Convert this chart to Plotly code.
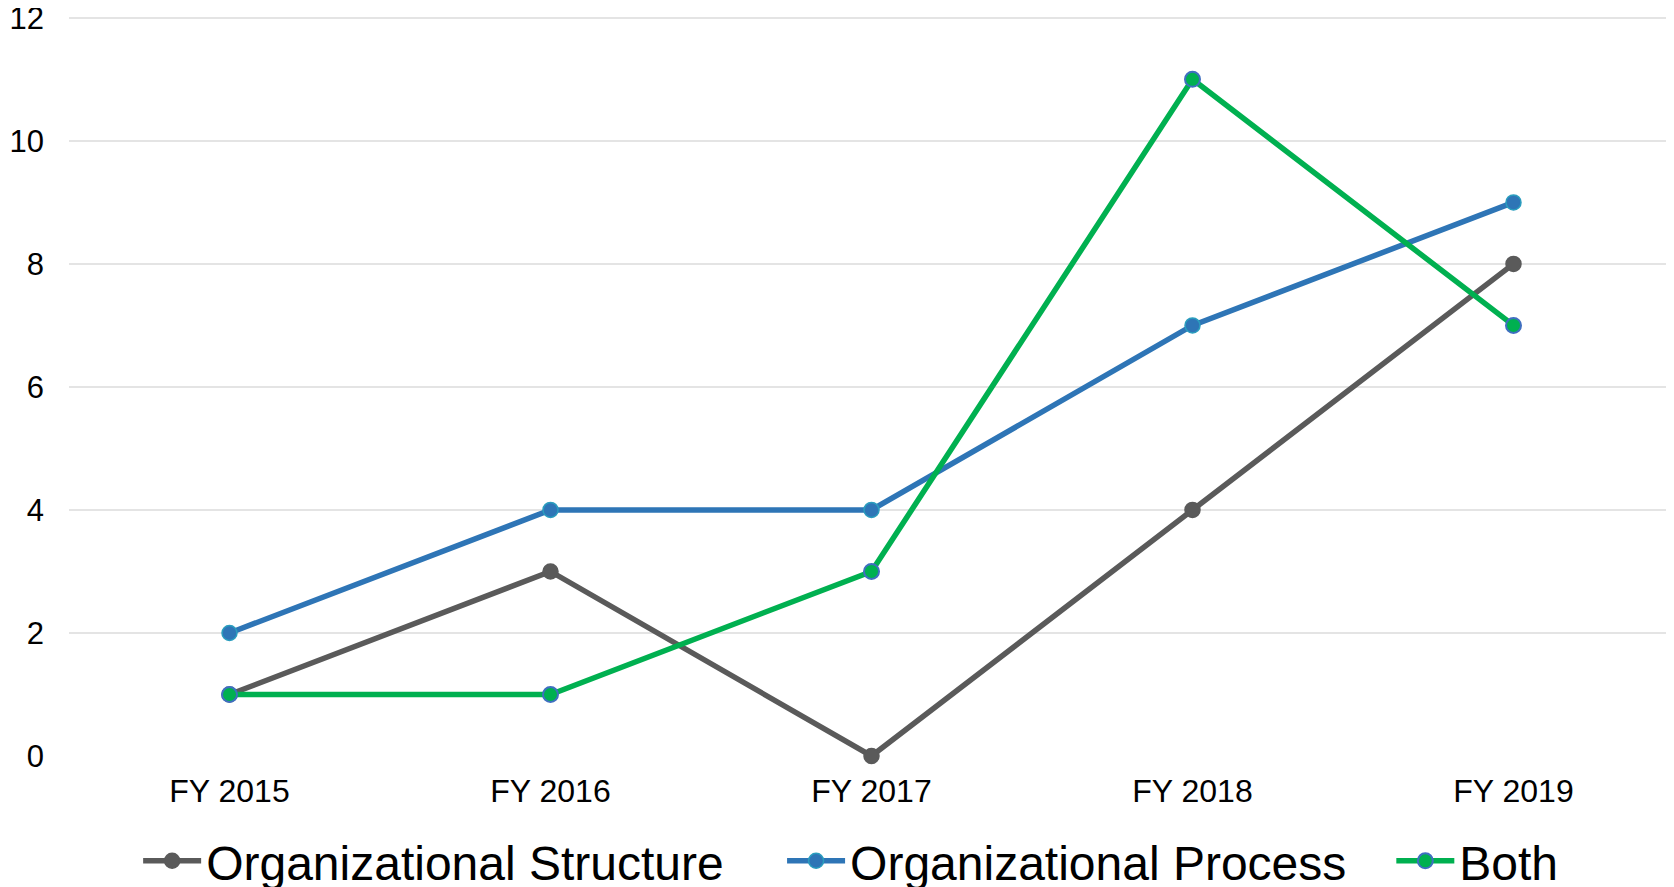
import plotly.graph_objects as go

categories = ["FY 2015", "FY 2016", "FY 2017", "FY 2018", "FY 2019"]
org_structure = [1, 3, 0, 4, 8]
org_process = [2, 4, 4, 7, 9]
both = [1, 1, 3, 11, 7]
y_ticks = [0, 2, 4, 6, 8, 10, 12]
series_names = ["Organizational Structure", "Organizational Process", "Both"]

FONT = "Liberation Sans, Arial, sans-serif"
NB = "\u00a0"  # spacing between horizontal legend entries

fig = go.Figure()
fig.add_trace(go.Scatter(
    x=categories, y=org_structure, name=series_names[0] + NB * 4,
    mode="lines+markers", cliponaxis=False,
    line=dict(color="#5A5A5A", width=5.5),
    marker=dict(size=15, color="#5A5A5A", line=dict(color="#5A5A5A", width=1.5)),
))
fig.add_trace(go.Scatter(
    x=categories, y=org_process, name=series_names[1] + NB * 3,
    mode="lines+markers", cliponaxis=False,
    line=dict(color="#2E75B6", width=5.5),
    marker=dict(size=15, color="#2E75B6", line=dict(color="#2A9DBE", width=1.5)),
))
fig.add_trace(go.Scatter(
    x=categories, y=both, name=series_names[2],
    mode="lines+markers", cliponaxis=False,
    line=dict(color="#00B050", width=5.5),
    marker=dict(size=15, color="#00B050", line=dict(color="#3F6FC0", width=2)),
))

# page body has an 8px default margin, so the figure is sized to end at the window edge
fig.update_layout(
    width=1666, height=879,
    margin=dict(l=61, r=0, t=8, b=131, autoexpand=False),
    paper_bgcolor="white", plot_bgcolor="white",
    font=dict(family=FONT, color="black", size=30),
    showlegend=True,
    legend=dict(
        orientation="h", x=0.487, xanchor="center", y=-0.142, yanchor="middle",
        font=dict(size=48, color="black", family=FONT),
        bgcolor="rgba(0,0,0,0)", itemwidth=58,
    ),
    xaxis=dict(
        type="category", range=[-0.5, 4.5],
        showgrid=False, showline=False, zeroline=False,
        tickfont=dict(size=32, color="black"),
        ticklabelstandoff=13, automargin=False,
    ),
    yaxis=dict(
        range=[0, 12.03], tickvals=y_ticks,
        showgrid=True, gridcolor="#E4E4E4", gridwidth=2,
        zeroline=False, showline=False,
        tickfont=dict(size=31, color="black"),
        ticklabelstandoff=24, automargin=False,
        ticklabeloverflow="allow",
    ),
)

fig.write_html("out.html")
